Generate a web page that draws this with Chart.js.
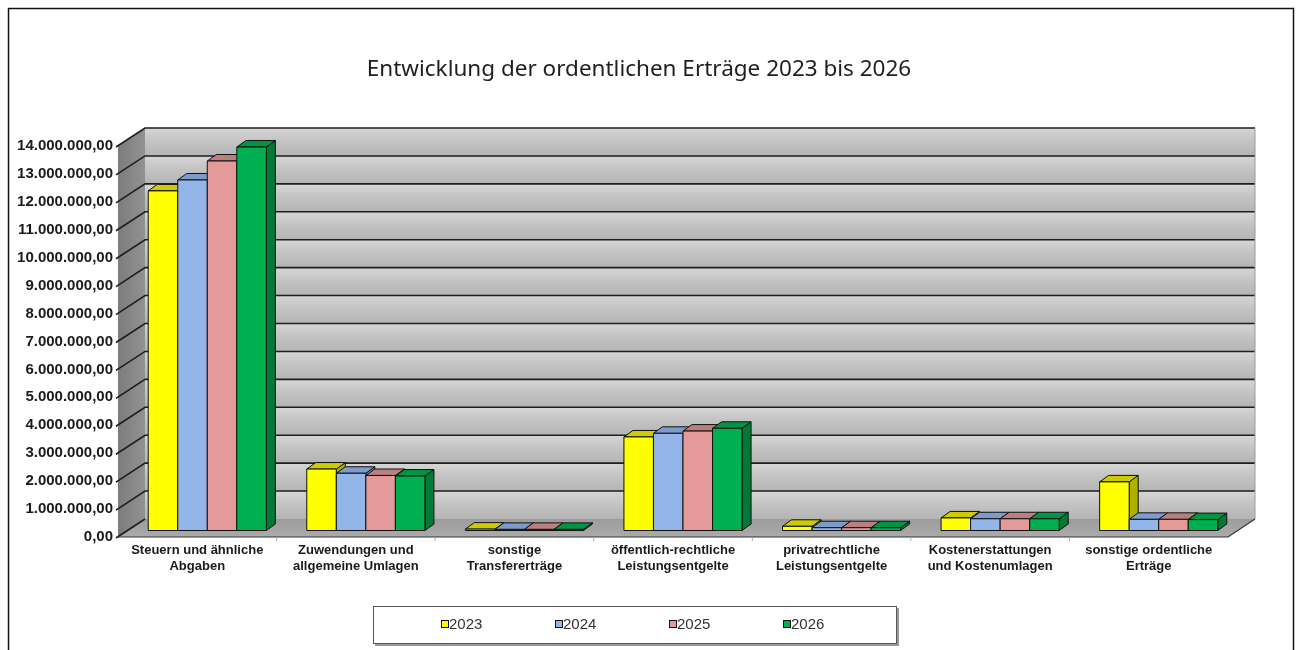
<!DOCTYPE html>
<html>
<head>
<meta charset="utf-8">
<script src="https://cdn.jsdelivr.net/npm/chart.js@4.4.1/dist/chart.umd.min.js"></script>
<style>
html, body { margin: 0; padding: 0; background: #fff; }
#wrap { position: relative; width: 1302px; height: 650px; }
</style>
</head>
<body>
<div id="wrap"><canvas id="chart" width="1302" height="650"></canvas></div>
<script>
// data
var chartTitle = "Entwicklung der ordentlichen Erträge 2023 bis 2026";
var categories = [
    ["Steuern und ähnliche", "Abgaben"],
    ["Zuwendungen und", "allgemeine Umlagen"],
    ["sonstige", "Transfererträge"],
    ["öffentlich-rechtliche", "Leistungsentgelte"],
    ["privatrechtliche", "Leistungsentgelte"],
    ["Kostenerstattungen", "und Kostenumlagen"],
    ["sonstige ordentliche", "Erträge"]
];
var years = ["2023", "2024", "2025", "2026"];
var values2023 = [12160000, 2200000, 50000, 3350000, 150000, 450000, 1740000];
var values2024 = [12550000, 2050000, 40000, 3480000, 100000, 420000, 400000];
var values2025 = [13230000, 1970000, 40000, 3560000, 100000, 420000, 400000];
var values2026 = [13730000, 1950000, 40000, 3660000, 100000, 420000, 390000];
var yMax = 14000000;
var yStep = 1000000;

var front = ['#ffff00', '#93b5ea', '#e39a98', '#00b050'];
var tops = ['#cccc00', '#7d9bcb', '#b98080', '#009443'];
var sides = ['#b0b000', '#6e8bbb', '#a56e6d', '#007a34'];

// 3d offsets
var DEPTH = {x: 27, y: -18};
var BAR_OFF = {x: 10, y: -6.5};
var BAR_DEPTH = {x: 9, y: -6.5};

function formatDE(v){
    var s = Math.round(v).toString().replace(/\B(?=(\d{3})+(?!\d))/g, '.');
    return s + ',00';
}

function poly(ctx, pts, fill, stroke){
    ctx.beginPath();
    ctx.moveTo(pts[0][0], pts[0][1]);
    for(var i = 1; i < pts.length; i++){
        ctx.lineTo(pts[i][0], pts[i][1]);
    }
    ctx.closePath();
    if(fill){ ctx.fillStyle = fill; ctx.fill(); }
    if(stroke){ ctx.strokeStyle = stroke; ctx.stroke(); }
}

var threeD = {
    id: 'threeD',
    beforeDatasetsDraw: function(chart){
        var ctx = chart.ctx, a = chart.chartArea, ys = chart.scales.y;
        var yTop = ys.getPixelForValue(yMax), y0 = ys.getPixelForValue(0);
        var L = a.left, R = a.right;
        ctx.save();
        ctx.lineWidth = 1;

        // back wall, banded
        for(var v = 0; v < yMax; v += yStep){
            var b1 = ys.getPixelForValue(v) + DEPTH.y;
            var b2 = ys.getPixelForValue(v + yStep) + DEPTH.y;
            var g = ctx.createLinearGradient(0, b2, 0, b1);
            g.addColorStop(0, '#d6d6d6');
            g.addColorStop(0.45, '#c4c4c4');
            g.addColorStop(1, '#b4b4b4');
            ctx.fillStyle = g;
            ctx.fillRect(L + DEPTH.x, b2, R - L, b1 - b2);
        }

        // left wall
        var lg = ctx.createLinearGradient(L, 0, L + DEPTH.x, 0);
        lg.addColorStop(0, '#7c7c7c');
        lg.addColorStop(1, '#929292');
        poly(ctx, [[L, yTop], [L + DEPTH.x, yTop + DEPTH.y], [L + DEPTH.x, y0 + DEPTH.y], [L, y0]], lg, null);

        // floor
        var fg = ctx.createLinearGradient(0, y0 + DEPTH.y, 0, y0);
        fg.addColorStop(0, '#9c9c9c');
        fg.addColorStop(1, '#ababab');
        poly(ctx, [[L, y0], [R, y0], [R + DEPTH.x, y0 + DEPTH.y], [L + DEPTH.x, y0 + DEPTH.y]], fg, null);

        // gridlines
        ctx.strokeStyle = '#1e1e1e';
        ctx.lineWidth = 1.6;
        for(var t = yStep; t <= yMax; t += yStep){
            var yf = ys.getPixelForValue(t);
            ctx.beginPath();
            ctx.moveTo(L - 2, yf + 1);
            ctx.lineTo(L + DEPTH.x, yf + DEPTH.y);
            ctx.lineTo(R + DEPTH.x, yf + DEPTH.y);
            ctx.stroke();
        }
        ctx.beginPath();
        ctx.moveTo(L - 2, y0 + 1);
        ctx.lineTo(L + DEPTH.x, y0 + DEPTH.y);
        ctx.stroke();

        // edges
        ctx.lineWidth = 1;
        ctx.strokeStyle = '#9a9a9a';
        ctx.beginPath();
        ctx.moveTo(R + DEPTH.x, yTop + DEPTH.y);
        ctx.lineTo(R + DEPTH.x, y0 + DEPTH.y);
        ctx.stroke();
        ctx.strokeStyle = '#333';
        ctx.lineWidth = 1.2;
        ctx.beginPath();
        ctx.moveTo(L, y0);
        ctx.lineTo(R, y0);
        ctx.lineTo(R + DEPTH.x, y0 + DEPTH.y);
        ctx.stroke();

        // category ticks
        ctx.strokeStyle = '#aaa';
        ctx.lineWidth = 1;
        var n = chart.data.labels.length;
        for(var k = 1; k < n; k++){
            var xk = L + (R - L) * k / n;
            ctx.beginPath();
            ctx.moveTo(xk, y0);
            ctx.lineTo(xk, y0 + 4);
            ctx.stroke();
        }
        ctx.restore();
    },
    beforeDatasetDraw: function(){
        return false;
    },
    afterDatasetsDraw: function(chart){
        var ctx = chart.ctx;
        ctx.save();
        ctx.lineWidth = 1;
        ctx.lineJoin = 'round';
        chart.data.labels.forEach(function(_, i){
            chart.data.datasets.forEach(function(ds, d){
                var el = chart.getDatasetMeta(d).data[i];
                var p = el.getProps(['x', 'y', 'base', 'width'], true);
                var x0 = p.x - p.width / 2 + BAR_OFF.x;
                var x1 = p.x + p.width / 2 + BAR_OFF.x;
                var yt = p.y + BAR_OFF.y, yb = p.base + BAR_OFF.y;
                var bx = BAR_DEPTH.x, by = BAR_DEPTH.y;
                poly(ctx, [[x1, yt], [x1 + bx, yt + by], [x1 + bx, yb + by], [x1, yb]], sides[d], '#111');
                poly(ctx, [[x0, yt], [x1, yt], [x1 + bx, yt + by], [x0 + bx, yt + by]], tops[d], '#111');
                poly(ctx, [[x0, yt], [x1, yt], [x1, yb], [x0, yb]], front[d], '#111');
            });
        });
        ctx.restore();
    },
    afterDraw: function(chart){
        var ctx = chart.ctx;
        ctx.save();
        // title
        ctx.fillStyle = '#1e1e1e';
        ctx.font = '22.5px "Noto Sans", "Open Sans", sans-serif';
        ctx.textAlign = 'center';
        ctx.textBaseline = 'middle';
        ctx.fillText(chartTitle, 639, 70);

        // legend
        ctx.fillStyle = '#9a9a9a';
        ctx.fillRect(375, 608, 524, 38);
        ctx.fillStyle = '#fff';
        ctx.fillRect(373, 606, 524, 38);
        ctx.strokeStyle = '#555';
        ctx.lineWidth = 1;
        ctx.strokeRect(373.5, 606.5, 523, 37);
        ctx.font = '15px "Liberation Sans", Arial, sans-serif';
        ctx.textAlign = 'left';
        chart.data.datasets.forEach(function(ds, d){
            var lx = 441 + d * 114;
            ctx.fillStyle = front[d];
            ctx.fillRect(lx + 0.5, 620.5, 7, 7);
            ctx.strokeStyle = '#111';
            ctx.strokeRect(lx + 0.5, 620.5, 7, 7);
            ctx.fillStyle = '#333';
            ctx.fillText(ds.label, lx + 8, 625);
        });

        // outer frame
        ctx.strokeStyle = '#111';
        ctx.lineWidth = 1.5;
        ctx.strokeRect(8.5, 8.5, 1285, 700);
        ctx.restore();
    }
};

var datasets = [values2023, values2024, values2025, values2026].map(function(vals, d){
    return {
        label: years[d],
        data: vals,
        backgroundColor: front[d],
        categoryPercentage: 0.745,
        barPercentage: 1
    };
});

new Chart(document.getElementById('chart'), {
    type: 'bar',
    data: { labels: categories, datasets: datasets },
    plugins: [threeD],
    options: {
        responsive: false,
        animation: false,
        devicePixelRatio: 1,
        layout: { padding: { left: 8, right: 74, top: 146, bottom: 68 } },
        plugins: {
            legend: { display: false },
            title: { display: false },
            tooltip: { enabled: false }
        },
        scales: {
            x: {
                grid: { display: false, drawTicks: false },
                border: { display: false },
                ticks: {
                    color: '#1a1a1a',
                    font: { family: '"Liberation Sans", Arial, sans-serif', size: 13, weight: 'bold', lineHeight: 1.25 },
                    padding: 5,
                    maxRotation: 0,
                    autoSkip: false
                },
                afterFit: function(scale){ scale.height = 45; }
            },
            y: {
                min: 0,
                max: yMax,
                grid: { display: false, drawTicks: false },
                border: { display: false },
                ticks: {
                    stepSize: yStep,
                    color: '#1a1a1a',
                    font: { family: '"Liberation Sans", Arial, sans-serif', size: 15, weight: 'bold' },
                    padding: 5,
                    callback: function(v){ return formatDE(v); }
                },
                afterFit: function(scale){ scale.width = 110; }
            }
        }
    }
});
</script>
</body>
</html>
